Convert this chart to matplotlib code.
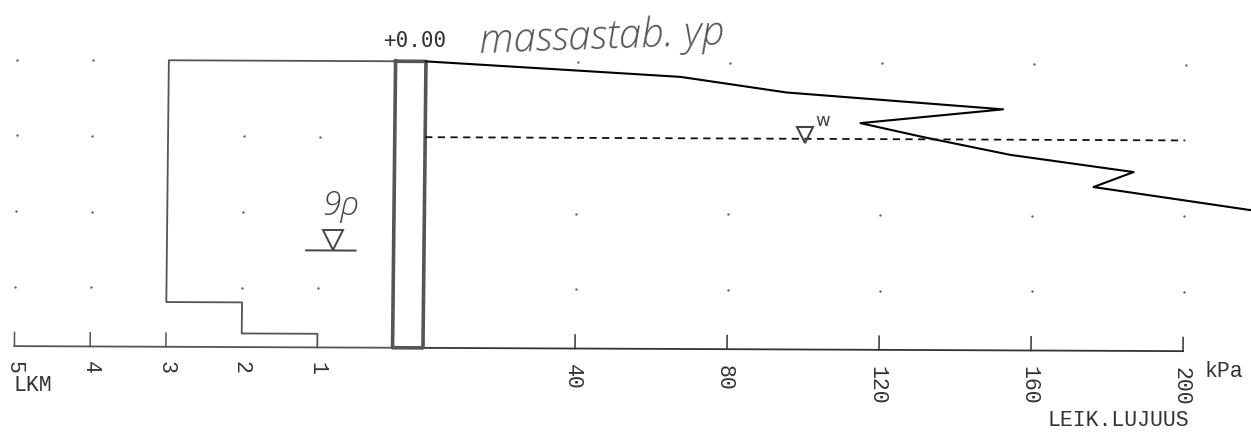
import numpy as np
import matplotlib
matplotlib.use("Agg")
import matplotlib.pyplot as plt
from matplotlib.transforms import Affine2D

# ---------- Data ----------
kpa_ticks = [40, 80, 120, 160, 200]
lkm_ticks = [5, 4, 3, 2, 1]

strength_kpa = [0, 39, 67, 95, 152, 114.5, 131, 154, 186.5, 176, 218]
strength_depth = [0, 0.11, 0.19, 0.39, 0.60, 0.79, 0.97, 1.20, 1.42, 1.62, 1.92]

count_lkm = [0, 3, 3, 2, 2, 1, 1]
count_depth = [0, 0, 3.19, 3.19, 3.60, 3.60, 3.78]

water_kpa = [0, 200]
water_depth = [1.0, 1.0]

pile_kpa = [-8, 0]
base_depth = 3.78

# grid specks left on the scan
dot_lkm = [5, 4, 5, 4, 2, 1, 5, 4, 2, 5, 4, 2, 1]
dot_lkm_depth = [0, 0, 1, 1, 1, 1, 2, 2, 2, 3, 3, 3, 3]
dot_kpa_depths = [0, 2, 3]

# ---------- Figure ----------
fig = plt.figure(figsize=(12.51, 4.32), dpi=100)
ax = fig.add_axes([0, 0, 1, 1])
ax.set_xlim(-111.3, 217.9)
ax.set_ylim(4.88, -0.82)
ax.axis("off")

# counts use their own x scale on the same depth axis
ax2 = ax.twiny()
ax2.set_xlim(5.19, -11.33)
ax2.axis("off")

# the scanned sheet is slightly skewed
skew = Affine2D(np.array([[1, 0.0105, -0.0105 * 82],
                          [-0.0043, 1, 0.0043 * 600],
                          [0, 0, 1]]))
tr = ax.transData + skew
tr2 = ax2.transData + skew

gray = "#555555"
ink = "#333333"
mono = "DejaVu Sans Mono"
label_font = "Liberation Mono"
hand = "Open Sans"

# ---------- Background dots ----------
for d in dot_kpa_depths:
    ax.plot(kpa_ticks, [d] * len(kpa_ticks), ls="", marker=".", ms=1.5, color="#666666", transform=tr)
ax2.plot(dot_lkm, dot_lkm_depth, ls="", marker=".", ms=1.5, color="#666666", transform=tr2)

# ---------- Scale ----------
ax.plot([-8, 200], [base_depth, base_depth], color=ink, lw=1.3, transform=tr)
ax2.plot([5, 0], [base_depth, base_depth], color=gray, lw=1.3, transform=tr2)
for t in kpa_ticks:
    ax.plot([t, t], [base_depth - 0.18, base_depth], color=ink, lw=1.1, transform=tr)
    ax.text(t - 0.6, 3.99, str(t), rotation=270, ha="center", va="top", family=label_font,
            fontsize=15.5, color=ink, transform=tr)
for t in lkm_ticks:
    if t >= 3:
        ax2.plot([t, t], [base_depth - 0.18, base_depth], color=gray, lw=1.1, transform=tr2)
    ax2.text(t, 3.97, str(t), rotation=270, ha="center", va="top", family=label_font,
             fontsize=15.5, color=ink, transform=tr2)

# ---------- Counts, pile, strength ----------
ax2.plot(count_lkm, count_depth, color=gray, lw=1.3, transform=tr2)
ax.plot([pile_kpa[0], pile_kpa[0], pile_kpa[1], pile_kpa[1], pile_kpa[0]],
        [0, base_depth, base_depth, 0, 0], color=gray, lw=2.6, transform=tr)
ax.plot(strength_kpa, strength_depth, color="black", lw=1.5, transform=tr)
ax.plot(water_kpa, water_depth, color="#111111", lw=1.3, dashes=(4, 3), transform=tr)

# ---------- Water and ground water marks ----------
ax.plot([100], [0.95], marker="v", ms=11, mfc="none", mec="#444444", mew=1.5, ls="", transform=tr)
ax.text(104.5, 0.77, "w", ha="center", va="center", fontsize=13, color="#444444", transform=tr)
ax.plot([-24], [2.36], marker="v", ms=14, mfc="none", mec="#444444", mew=1.4, ls="", transform=tr)
ax.plot([-31, -18], [2.5, 2.5], color="#444444", lw=1.4, transform=tr)

# ---------- Text ----------
ax.text(-3, -0.27, "+0.00", ha="center", va="center", family=mono, fontsize=15, color=ink, transform=tr)
ax.text(210.8, 4.04, "kPa", ha="center", va="center", family=label_font, fontsize=15.5, color=ink, transform=tr)
ax.text(164.5, 4.7, "LEIK.LUJUUS", ha="left", va="center", family=label_font, fontsize=15.5, color=ink, transform=tr)
ax2.text(5, 4.3, "LKM", ha="left", va="center", family=label_font, fontsize=15.5, color=ink, transform=tr2)
ax.text(14.2, -0.12, "massastab. yp", ha="left", va="baseline", rotation=2, rotation_mode="anchor",
        family=hand, style="italic", fontsize=29, fontweight="light", color="#555555", transform=tr)
ax.text(-22, 1.92, "9ρ", ha="center", va="center", family=hand, style="italic",
        fontsize=24, fontweight="light", color="#444444", transform=tr)

fig.savefig("out.png", dpi=100)
